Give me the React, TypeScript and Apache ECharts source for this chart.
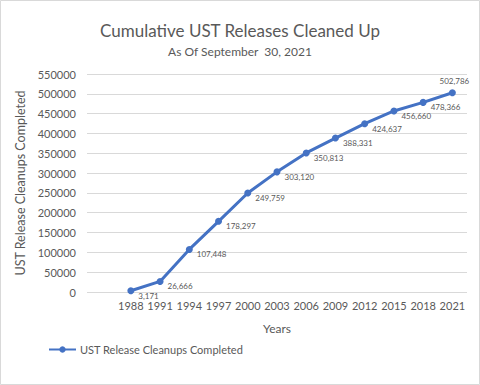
import React, { useEffect, useRef } from "react";
import * as echarts from "echarts";

const years = ["1988", "1991", "1994", "1997", "2000", "2003", "2006", "2009", "2012", "2015", "2018", "2021"];
const cleanups = [3171, 26666, 107448, 178297, 249759, 303120, 350813, 388331, 424637, 456660, 478366, 502786];
const yTicks = { min: 0, max: 550000, interval: 50000 };

const FONT = "Lato, 'Open Sans', sans-serif";
const TEXT = "#595959";

export default function App() {
  const ref = useRef<HTMLDivElement>(null);
  useEffect(() => {
    document.body.style.margin = "0";
    const chart = echarts.init(ref.current!, null, { renderer: "svg" });
    const cats = ["", ...years];
    const data: any[] = ["-", ...cleanups.map((v, i) => ({
      value: v,
      label: i === cleanups.length - 1
        ? { position: "top", offset: [2, 1] }
        : { position: "right", offset: [-1, 5] },
    }))];
    chart.setOption({
      animation: false,
      backgroundColor: "#ffffff",
      textStyle: { fontFamily: FONT },
      title: {
        text: "Cumulative UST Releases Cleaned Up",
        subtext: "As Of September  30, 2021",
        left: "center",
        top: 17,
        itemGap: 6,
        textStyle: { fontFamily: FONT, fontSize: 17, fontWeight: "normal", color: TEXT },
        subtextStyle: { fontFamily: FONT, fontSize: 12, color: TEXT },
      },
      legend: {
        left: 43,
        top: 339,
        itemWidth: 27,
        itemHeight: 8,
        itemGap: 4,
        textStyle: { fontFamily: FONT, fontSize: 11, color: TEXT, padding: [0, 0, 0, -1] },
        data: ["UST Release Cleanups Completed"],
      },
      grid: { left: 87, right: 13, top: 74, bottom: 93, containLabel: false, outerBoundsMode: "none" },
      xAxis: {
        type: "category",
        data: cats,
        boundaryGap: true,
        name: "Years",
        nameLocation: "middle",
        nameGap: 30,
        nameTextStyle: { fontFamily: FONT, fontSize: 12, color: TEXT },
        axisLine: { show: false },
        axisTick: { show: false },
        axisLabel: { fontFamily: FONT, fontSize: 11, color: TEXT, margin: 8, interval: 0 },
      },
      yAxis: {
        type: "value",
        min: yTicks.min,
        max: yTicks.max,
        interval: yTicks.interval,
        name: "UST Release Cleanups Completed",
        nameLocation: "middle",
        nameGap: 58,
        nameTextStyle: { fontFamily: FONT, fontSize: 12.5, color: TEXT },
        axisLine: { show: false },
        axisTick: { show: false },
        axisLabel: { fontFamily: FONT, fontSize: 11, color: TEXT, margin: 11, formatter: (v: number) => String(v) },
        splitLine: { lineStyle: { color: "#d9d9d9", width: 1 } },
      },
      series: [
        {
          name: "UST Release Cleanups Completed",
          type: "line",
          data,
          connectNulls: false,
          symbol: "circle",
          symbolSize: 7,
          lineStyle: { color: "#4472C4", width: 3 },
          itemStyle: { color: "#4472C4" },
          label: {
            show: true,
            fontFamily: FONT,
            fontSize: 8,
            color: TEXT,
            formatter: (p: any) => Number(p.value).toLocaleString("en-US"),
          },
        },
      ],
      graphic: [
        {
          type: "rect",
          shape: { x: 0.5, y: 0.5, width: 479, height: 384 },
          style: { fill: "none", stroke: "#d9d9d9", lineWidth: 1 },
          silent: true,
        },
      ],
    });
    return () => chart.dispose();
  }, []);
  return <div ref={ref} style={{ width: 480, height: 385 }} />;
}
